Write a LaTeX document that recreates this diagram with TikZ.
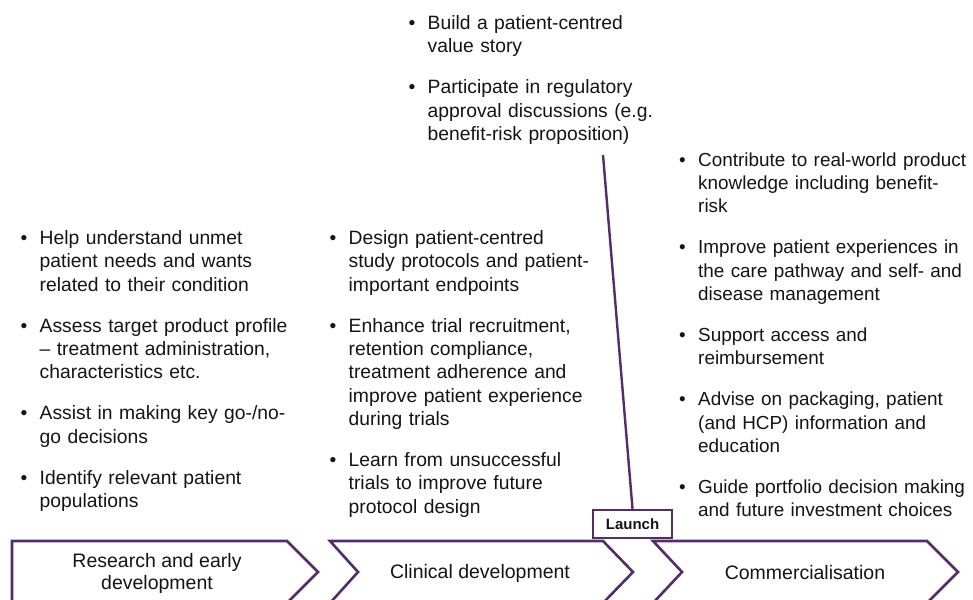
\documentclass[tikz,border=0pt]{standalone}
\usepackage{fontspec}
\setmainfont{Liberation Sans}
\definecolor{phasepurple}{RGB}{84,44,104}
\definecolor{bodytext}{RGB}{20,20,20}
% one bullet point, hanging indent for the wrapped lines
\newcommand{\bitem}[1]{\noindent\hangindent=19pt\hangafter=1\makebox[19pt][l]{\textbullet}#1\par}

\begin{document}
\begin{tikzpicture}[x=1pt,y=-1pt,
  bullets/.style={anchor=north west,inner sep=0pt,text width=320pt,align=left,text=bodytext,
    font=\fontsize{19.3}{23.3}\selectfont,execute at begin node={\setlength{\parskip}{17.7pt}}},
  phase/.style={draw=phasepurple,line width=2.6pt,line join=miter,fill=white},
  phaselabel/.style={align=center,text=bodytext,font=\fontsize{19.5}{22}\selectfont},
  launchbox/.style={draw=phasepurple,line width=2.4pt,minimum width=79pt,minimum height=28pt,
    inner sep=0pt,font=\bfseries\fontsize{15}{17}\selectfont,text=bodytext}]
  \useasboundingbox (0,0) rectangle (973,599);
  \clip (0,0) rectangle (973,599);

  % phases
  \draw[phase] (12,541) -- (287,541) -- (318,572) -- (287,603) -- (12,603) -- cycle;
  \draw[phase] (330,541) -- (603,541) -- (633,572) -- (603,603) -- (330,603) -- (358,572) -- cycle;
  \draw[phase] (653,541) -- (927,541) -- (958,572) -- (927,603) -- (653,603) -- (682,572) -- cycle;
  \node[phaselabel] (research) at (157,573) {Research and early\\development};
  \node[phaselabel] (clinical) at (480,573) {Clinical development};
  \node[phaselabel] (commercial) at (805,573) {Commercialisation};

  % launch marker
  \node[launchbox] (launch) at (632.5,524) {Launch};
  \coordinate (launchtop) at (603,155);
  \draw[phasepurple,line width=2.4pt] (launchtop) -- (launch.north);

  % bullet lists
  \node[bullets] (researchlist) at (20.5,230.5) {%
    \bitem{Help understand unmet\newline patient needs and wants\newline related to their condition}
    \bitem{Assess target product profile\newline -- treatment administration,\newline characteristics etc.}
    \bitem{Assist in making key go-/no-\newline go decisions}
    \bitem{Identify relevant patient\newline populations}};
  \node[bullets] (clinicallist) at (329.5,230.5) {%
    \bitem{Design patient-centred\newline study protocols and patient-\newline important endpoints}
    \bitem{Enhance trial recruitment,\newline retention compliance,\newline treatment adherence and\newline improve patient experience\newline during trials}
    \bitem{Learn from unsuccessful\newline trials to improve future\newline protocol design}};
  \node[bullets] (launchlist) at (408.5,15.5) {%
    \bitem{Build a patient-centred\newline value story}
    \bitem{Participate in regulatory\newline approval discussions (e.g.\newline benefit-risk proposition)}};
  \node[bullets,font=\fontsize{18.9}{23.3}\selectfont] (commerciallist) at (679,152.5) {%
    \bitem{Contribute to real-world product\newline knowledge including benefit-\newline risk}
    \bitem{Improve patient experiences in\newline the care pathway and self- and\newline disease management}
    \bitem{Support access and\newline reimbursement}
    \bitem{Advise on packaging, patient\newline (and HCP) information and\newline education}
    \bitem{Guide portfolio decision making\newline and future investment choices}};
\end{tikzpicture}
\end{document}
